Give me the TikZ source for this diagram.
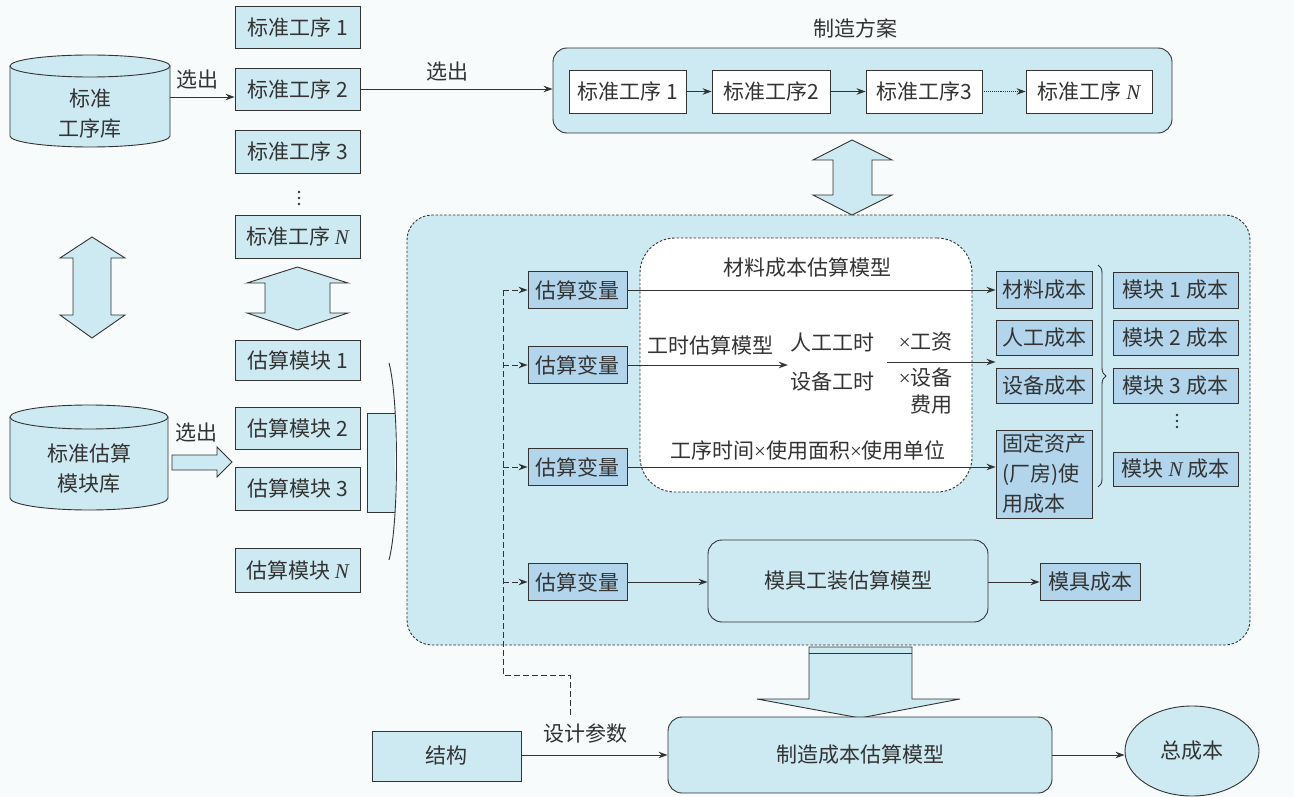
\documentclass[tikz,border=0pt]{standalone}
\usepackage{fontspec}
\setmainfont{Noto Sans CJK SC}
\newfontfamily\latserif{Liberation Serif}
\usetikzlibrary{arrows.meta,shapes.geometric,decorations.pathreplacing}
\definecolor{lb}{HTML}{CDE9F2}
\definecolor{db}{HTML}{B2D5EC}
\definecolor{ln}{HTML}{333333}
\definecolor{bg}{HTML}{F7FBFC}
\newcommand{\Nit}{{\latserif\itshape N}}
\newcommand{\tms}{{\latserif ×}}
\tikzset{
  sz/.style 2 args={minimum width=#1pt, minimum height=#2pt},
  box/.style={draw=ln, fill=lb, inner sep=0pt, line width=0.9pt},
  vbox/.style={box, fill=db},
  wbox/.style={box, fill=white},
  rbox/.style={box, rounded corners=14pt},
  dashbox/.style={draw=ln, line width=0.9pt, dash pattern=on 2.5pt off 1.8pt, inner sep=0pt},
  arr/.style={->, line width=0.9pt},
  feed/.style={draw=ln, dash pattern=on 6pt off 3pt, line width=0.9pt},
  blk/.style={draw=ln, fill=lb, line width=0.9pt, line join=miter},
  lbl/.style={inner sep=1pt},
  vdot/.style={fill=ln, circle, inner sep=0pt, minimum size=2.6pt}
}
\begin{document}
\begin{tikzpicture}[x=1pt,y=-1pt,font=\fontsize{21}{26}\selectfont,color=ln,
  >={Stealth[length=9pt,width=6.5pt]}]
\fill[bg] (0,0) rectangle (1294,797);
\useasboundingbox (0,0) rectangle (1294,797);

% ---------- big estimation region ----------
\node[dashbox, fill=lb, rounded corners=25pt, sz={843}{430}] (est) at (828.5,430) {};
\node[dashbox, fill=white, rounded corners=35pt, sz={332}{254}] (inner) at (806,365) {};

% ---------- cylinders ----------
\path[blk] (10,66) -- (10,136) .. controls (10,142.1) and (45.8,147) .. (90,147)
  .. controls (134.2,147) and (170,142.1) .. (170,136) -- (170,66);
\draw[fill=lb, line width=0.9pt] (90,66) ellipse [x radius=80, y radius=11];
\node[align=center, font=\fontsize{21}{30}\selectfont, sz={160}{68}] (c1) at (90,114) {标准\\工序库};

\path[blk] (10,417) -- (10,498) .. controls (10,504.6) and (45.4,510) .. (89,510)
  .. controls (132.6,510) and (168,504.6) .. (168,498) -- (168,417);
\draw[fill=lb, line width=0.9pt] (89,417) ellipse [x radius=79, y radius=12];
\node[align=center, font=\fontsize{21}{30}\selectfont, sz={158}{68}] (c2) at (89,469) {标准估算\\模块库};

% ---------- standard procedures column ----------
\node[box, sz={125}{42}] (s1) at (297.5,27.5) {标准工序 1};
\node[box, sz={125}{42}] (s2) at (297.5,89) {标准工序 2};
\node[box, sz={125}{43}] (s3) at (297.5,151.5) {标准工序 3};
\node[vdot] (sd1) at (299,192) {};
\node[vdot] (sd2) at (299,198) {};
\node[vdot] (sd3) at (299,204) {};
\node[box, sz={125}{43}] (sN) at (297.5,236.5) {标准工序 \Nit};

\node[lbl] (sel1) at (197,80) {选出};
\draw[arr] (c1.east |- 0,97) -- (s2.west |- 0,97);

% double arrows
\path[blk] (92,237) -- (125,258) -- (111,258) -- (111,315) -- (125,315) -- (92,338)
  -- (60,315) -- (73,315) -- (73,258) -- (60,258) -- cycle;
\path[blk] (297.5,267) -- (348,283) -- (330,283) -- (330,313) -- (348,313) -- (297.5,330)
  -- (247,313) -- (265,313) -- (265,283) -- (247,283) -- cycle;

% ---------- estimation modules column ----------
\node[box, sz={125}{40}] (e1) at (297.5,360) {估算模块 1};
\node[box, sz={125}{42}] (e2) at (297.5,428) {估算模块 2};
\node[box, sz={125}{43}] (e3) at (297.5,488.5) {估算模块 3};
\node[box, sz={125}{44}] (eN) at (297.5,570) {估算模块 \Nit};

\node[lbl] (sel2) at (196,433) {选出};
\path[blk] (172,455) -- (217,455) -- (217,447) -- (232,462) -- (217,477) -- (217,470) -- (172,470) -- cycle;

% bracket arrow
\fill[lb] (367,413) rectangle (395,512);
\draw[line width=0.9pt] (395,413) -- (367,413) -- (367,512) -- (395,512);
\draw[line width=0.9pt] (389,363) .. controls (399,400) and (399,523) .. (389,560);

% ---------- manufacturing plan ----------
\node[lbl] (plant) at (855,28) {制造方案};
\node[rbox, sz={619}{85}] (plan) at (862.5,90.5) {};
\node[wbox, sz={117}{43}] (p1) at (627.5,91.5) {标准工序 1};
\node[wbox, sz={118}{43}] (p2) at (771,91.5) {标准工序2};
\node[wbox, sz={116}{43}] (p3) at (924,91.5) {标准工序3};
\node[wbox, sz={126}{43}] (pN) at (1089,91.5) {标准工序 \Nit};
\draw[arr] (p1) -- (p2);
\draw[arr] (p2) -- (p3);
\draw[arr, densely dotted] (p3) -- (pN);

\node[lbl] (sel3) at (447,72) {选出};
\draw[arr] (s2.east) -- (plan.west |- s2.east);

\path[blk] (852,140) -- (892,160) -- (872,160) -- (872,195) -- (892,195) -- (852,215)
  -- (813,195) -- (833,195) -- (833,160) -- (813,160) -- cycle;

% ---------- estimation rows ----------
\node[vbox, sz={99}{37}] (v1) at (577.5,290) {估算变量};
\node[vbox, sz={99}{37}] (v2) at (577.5,365) {估算变量};
\node[vbox, sz={99}{37}] (v3) at (577.5,467) {估算变量};
\node[vbox, sz={99}{37}] (v4) at (577.5,582) {估算变量};

\node[vbox, sz={96}{37}] (m1) at (1044,290) {材料成本};
\node[vbox, sz={96}{35}] (m2) at (1044,337.5) {人工成本};
\node[vbox, sz={96}{35}] (m3) at (1044,385.5) {设备成本};
\node[vbox, sz={96}{88}, align=left, font=\fontsize{21}{30}\selectfont] (m4) at (1044,474) {固定资产\\(厂房)使\\用成本};

% row 1
\node[lbl] (l1) at (807,268) {材料成本估算模型};
\draw[arr] (v1) -- (m1);
% row 2
\node[lbl] (l2) at (710,345) {工时估算模型};
\node[align=center, inner sep=2pt, font=\fontsize{21}{39}\selectfont] (hours) at (832,362) {人工工时\\设备工时};
\draw[arr] (v2.east) -- (hours.west |- v2.east);
\node[lbl, anchor=east] (r1) at (954,342) {\tms 工资};
\node[lbl, align=right, font=\fontsize{21}{27}\selectfont, anchor=north east] (r2) at (954,367) {\tms 设备\\费用};
\coordinate (h2a) at (887,362);
\draw[arr] (h2a) -- (h2a -| m2.west);
% row 3
\node[lbl] (l3) at (808,450) {工序时间\tms 使用面积\tms 使用单位};
\draw[arr] (v3.east) -- (v3.east -| m4.west);

% brace and module costs
\draw[line width=0.9pt, decorate, decoration={brace, amplitude=8pt}] (1098,265) -- (1098,487);
\node[vbox, sz={125}{36}] (mod1) at (1175.5,290) {模块 1 成本};
\node[vbox, sz={125}{35}] (mod2) at (1175.5,337.5) {模块 2 成本};
\node[vbox, sz={125}{35}] (mod3) at (1175.5,385.5) {模块 3 成本};
\node[vdot] (md1) at (1177,415) {};
\node[vdot] (md2) at (1177,421) {};
\node[vdot] (md3) at (1177,427) {};
\node[vbox, sz={125}{34}] (modN) at (1175.5,469) {模块 \Nit\ 成本};

% row 4
\node[rbox, sz={280}{82}] (mold) at (848,581) {模具工装估算模型};
\node[vbox, sz={100}{37}] (moldc) at (1090,582) {模具成本};
\draw[arr] (v4.east) -- (v4.east -| mold.west);
\draw[arr] (mold.east |- moldc.west) -- (moldc.west);

% design-parameter feed line
\coordinate (dp) at (570,715);
\coordinate (bend) at (503,675);
\draw[feed] (dp) |- (bend) -- (bend |- v1.west);
\foreach \v in {v1,v2,v3,v4}
  \draw[feed, ->] (bend |- \v.west) -- (\v.west);

% big down arrow
\path[blk] (809,647) -- (912,647) -- (912,699) -- (960,699) -- (860,718) -- (757,699) -- (809,699) -- cycle;
\draw[line width=0.9pt] (809,653) -- (912,653);

% ---------- bottom row ----------
\node[box, sz={149}{50}] (struct) at (446.5,756) {结构};
\node[rbox, sz={384}{76}] (mfg) at (860,755) {制造成本估算模型};
\node[ellipse, draw=ln, fill=lb, line width=0.9pt, inner sep=0pt, sz={134}{90}] (tot) at (1192,751) {总成本};
\node[lbl] (dparam) at (585,733) {设计参数};
\draw[arr] (struct.east |- mfg.west) -- (mfg.west);
\draw[arr] (mfg.east) -- (mfg.east -| tot.west);
\end{tikzpicture}
\end{document}
